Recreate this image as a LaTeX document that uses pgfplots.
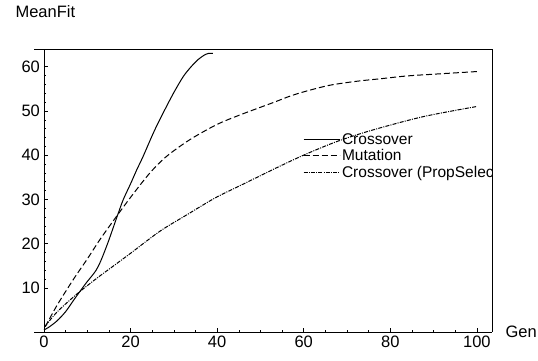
\documentclass[border=0pt]{standalone}
\usepackage{pgfplots}
\pgfplotsset{compat=1.18}
\usepackage{fontspec}
\setmainfont{Liberation Sans}
\begin{document}
\begin{tikzpicture}
\path[use as bounding box] (-34pt,-28pt) rectangle (504pt,332pt);
\begin{scope}
\clip (-40pt,-40pt) -- (510pt,-40pt) -- (510pt,100pt) -- (458pt,100pt) -- (458pt,250pt) -- (510pt,250pt) -- (510pt,340pt) -- (-40pt,340pt) -- cycle;
\begin{axis}[
  scale only axis,
  width=458pt, height=283pt,
  xmin=-2.3, xmax=103.5, ymin=0, ymax=64,
  axis x line=bottom, axis y line=center,
  axis line style={-, line width=0.7pt},
  every inner y axis line/.append style={-},
  every outer x axis line/.append style={-},
  hide obscured x ticks=false,
  xtick={0,20,40,60,80,100},
  ytick={10,20,30,40,50,60},
  minor x tick num=3,
  minor y tick num=4,
  tick align=inside,
  major tick length=4pt, minor tick length=2.5pt,
  tick style={line width=0.5pt, black},
  /pgf/number format/assume math mode=true,
  tick label style={font=\fontsize{16.5}{19}\selectfont},
  yticklabel style={xshift=-0.5pt},
  xticklabel style={yshift=-0.5pt},
  xlabel={Gen}, ylabel={MeanFit},
  every axis x label/.style={at={(axis description cs:1.022,0.0)}, anchor=west, font=\fontsize{16.5}{19}\selectfont},
  every axis y label/.style={at={(axis description cs:-0.048,1.165)}, anchor=north west, font=\fontsize{16.5}{19}\selectfont},
  legend style={draw=none, fill=none, at={(axis description cs:0.587,0.71)}, anchor=north west, inner sep=0pt, row sep=0pt, font=\fontsize{15.5}{17.8}\selectfont, legend cell align=left},
  legend image code/.code={\draw[#1] (0pt,0pt) -- (36pt,0pt);},
  clip=false,
]
\addplot[black, line width=1pt, smooth] coordinates {
(0,0.5)(1,1)(3,2.5)(5,4.6)(7,7.4)(9,10.1)(10,11.4)(11,12.6)(12,13.9)(13,15.8)(14,18.2)(15,20.8)(16,23.6)(17,26.4)(18.3,29.9)(20,33.5)(21.4,36.6)(22.9,39.7)(25.5,45.5)(28.3,51)(30.2,54.5)(32.2,57.8)(34,60)(35.6,61.6)(37,62.6)(38,63)(39,63)
};
\addlegendentry{Crossover}
\addplot[black, line width=1pt, smooth, dash pattern=on 6pt off 3pt] coordinates {
(0.3,1.2)(3,6)(6.8,11.9)(10,16.5)(13,21)(16.8,26.2)(20.2,30.7)(24.5,36)(28.3,39.7)(33.7,43.5)(39.9,46.9)(45.3,49.1)(53,51.9)(57,53.4)(60.7,54.5)(66,55.8)(72.2,56.7)(78,57.3)(83.8,57.9)(90,58.3)(95,58.6)(100,58.9)
};
\addlegendentry{Mutation}
\addplot[black, line width=1pt, smooth, dash pattern=on 4pt off 1.2pt on 1pt off 1.2pt] coordinates {
(0.2,1.2)(3,4.5)(7.5,8.5)(12,12)(16,14.9)(20,17.8)(26.8,22.8)(33,26.5)(39.5,30.3)(45.3,33.1)(54.5,37.5)(60.7,40.3)(68,43.2)(76,45.7)(87.6,48.7)(100,51)
};
\addlegendentry{Crossover (PropSelect)}
\end{axis}
\end{scope}
\draw[line width=0.7pt] (0pt,283pt) -- (458pt,283pt) -- (458pt,0pt);
\end{tikzpicture}
\end{document}
